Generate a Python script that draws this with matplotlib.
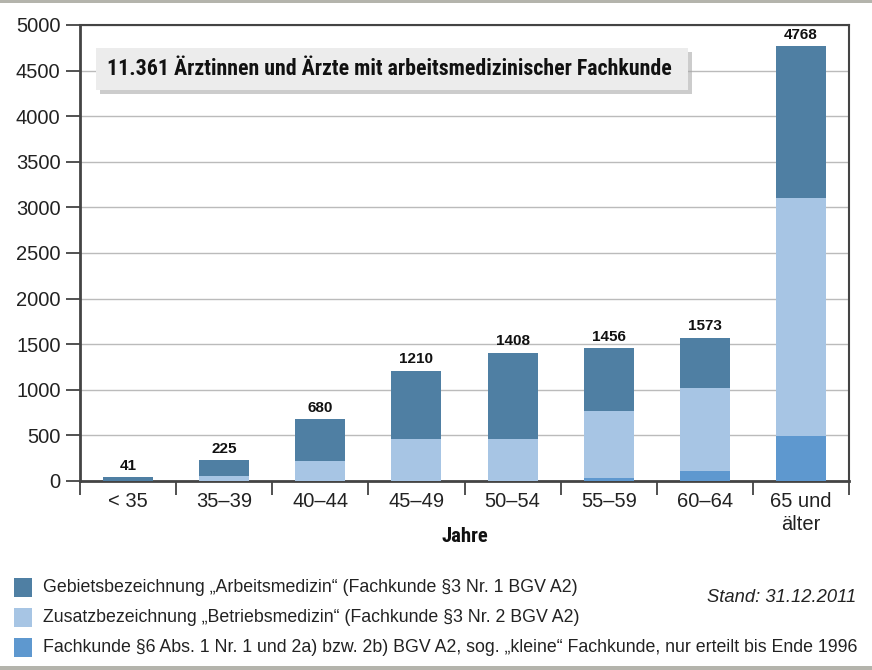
import numpy as np
import matplotlib.pyplot as plt
from matplotlib.patches import FancyBboxPatch, Rectangle

# Altersgruppen und Werte
categories = ['< 35', '35–39', '40–44', '45–49', '50–54', '55–59', '60–64', '65 und\nälter']
totals = [41, 225, 680, 1210, 1408, 1456, 1573, 4768]
kleine = [0, 0, 0, 0, 0, 30, 110, 490]
betriebsmedizin = [0, 55, 215, 460, 460, 740, 910, 2617]
arbeitsmedizin = [41, 170, 465, 750, 948, 686, 553, 1661]

legend_labels = [
    'Gebietsbezeichnung \u201eArbeitsmedizin\u201c (Fachkunde §3 Nr. 1 BGV A2)',
    'Zusatzbezeichnung \u201eBetriebsmedizin\u201c (Fachkunde §3 Nr. 2 BGV A2)',
    'Fachkunde §6 Abs. 1 Nr. 1 und 2a) bzw. 2b) BGV A2, sog. \u201ekleine\u201c Fachkunde, nur erteilt bis Ende 1996',
]
title = '11.361 Ärztinnen und Ärzte mit arbeitsmedizinischer Fachkunde'

c_dark = '#4f7fa3'
c_light = '#a7c5e4'
c_mid = '#5e98cf'
cond = ['Roboto Condensed', 'Liberation Sans Narrow', 'Liberation Sans', 'DejaVu Sans']

plt.rcParams['font.family'] = ['Liberation Sans', 'DejaVu Sans']

fig = plt.figure(figsize=(8.72, 6.70), dpi=100)
ax = fig.add_axes([80 / 872, 1 - 481 / 670, (849 - 80) / 872, (481 - 25) / 670])

x = np.arange(len(categories))
w = 0.52
k = np.array(kleine)
b = np.array(betriebsmedizin)
a = np.array(arbeitsmedizin)
ax.bar(x, k, w, color=c_mid, zorder=3)
ax.bar(x, b, w, bottom=k, color=c_light, zorder=3)
ax.bar(x, a, w, bottom=k + b, color=c_dark, zorder=3)

for xi, t in zip(x, totals):
    ax.annotate(str(t), (xi, t), xytext=(0, 3), textcoords='offset points',
                ha='center', va='bottom', fontsize=11, fontweight='bold', color='#111111')

ax.set_xlim(-0.5, len(categories) - 0.5)
ax.set_ylim(0, 5000)
ax.set_yticks(np.arange(0, 5001, 500))
ax.tick_params(axis='y', labelsize=14.5, length=10, width=1.2, color='#333333',
               labelcolor='#222222', pad=4)
ax.set_xticks(x)
ax.set_xticklabels(categories, fontsize=14.5, color='#222222', linespacing=1.25)
ax.tick_params(axis='x', which='major', length=0, pad=8)
ax.set_xticks(np.arange(-0.5, len(categories), 1), minor=True)
ax.tick_params(axis='x', which='minor', length=10, width=1.2, color='#333333', direction='out')
ax.yaxis.grid(True, color='#bbbbbb', linewidth=1, zorder=0)
for s in ax.spines.values():
    s.set_color('#444444')
    s.set_linewidth(1.5)
ax.spines['left'].set_linewidth(2)
ax.spines['bottom'].set_linewidth(2)

jahre = fig.text(465 / 872, 1 - 537 / 670, 'Jahre', ha='center', va='center', fontsize=14,
                 fontweight='bold', family=cond, color='#111111')

# Titelbox mit Schatten
shadow = FancyBboxPatch((100 / 872, 1 - 94 / 670), 592 / 872, 42 / 670,
                        boxstyle='square,pad=0', transform=fig.transFigure,
                        facecolor='#aaaaaa', edgecolor='none', alpha=0.6, zorder=4)
box = FancyBboxPatch((96 / 872, 1 - 90 / 670), 592 / 872, 42 / 670,
                     boxstyle='square,pad=0', transform=fig.transFigure,
                     facecolor='#ececec', edgecolor='none', zorder=5)
fig.add_artist(shadow)
fig.add_artist(box)
title_txt = fig.text(107 / 872, 1 - 69 / 670, title, ha='left', va='center', fontsize=15,
                     fontweight='bold', family=cond, color='#111111', zorder=6)

# Legende
leg_y = [587, 617, 647]
leg_colors = [c_dark, c_light, c_mid]
leg_txt = []
for yy, col, lab in zip(leg_y, leg_colors, legend_labels):
    fig.add_artist(Rectangle((14 / 872, 1 - (yy + 9.5) / 670), 18 / 872, 19 / 670,
                             transform=fig.transFigure, facecolor=col, edgecolor='none'))
    leg_txt.append(fig.text(43 / 872, 1 - yy / 670, lab, ha='left', va='center',
                            fontsize=13, color='#222222'))
stand = fig.text(856 / 872, 1 - 598 / 670, 'Stand: 31.12.2011', ha='right', va='center',
                 fontsize=13, style='italic', color='#222222')

# Rahmenlinien oben und unten
fig.add_artist(Rectangle((0, 1 - 3 / 670), 1, 3 / 670, transform=fig.transFigure,
                         facecolor='#b4b4ac', edgecolor='none'))
fig.add_artist(Rectangle((0, 0), 1, 4 / 670, transform=fig.transFigure,
                         facecolor='#b4b4ac', edgecolor='none'))


# Schriftgröße an die Textbreite der Vorlage anpassen
def fit(txt, target_px):
    r = fig.canvas.get_renderer()
    cur = txt.get_window_extent(r).width
    txt.set_fontsize(txt.get_fontsize() * target_px / cur)


fit(title_txt, 565)
fit(jahre, 47)
fit(leg_txt[2], 814)
for t in leg_txt[:2]:
    t.set_fontsize(leg_txt[2].get_fontsize())
fit(stand, 148)

fig.savefig('out.png', dpi=100)
